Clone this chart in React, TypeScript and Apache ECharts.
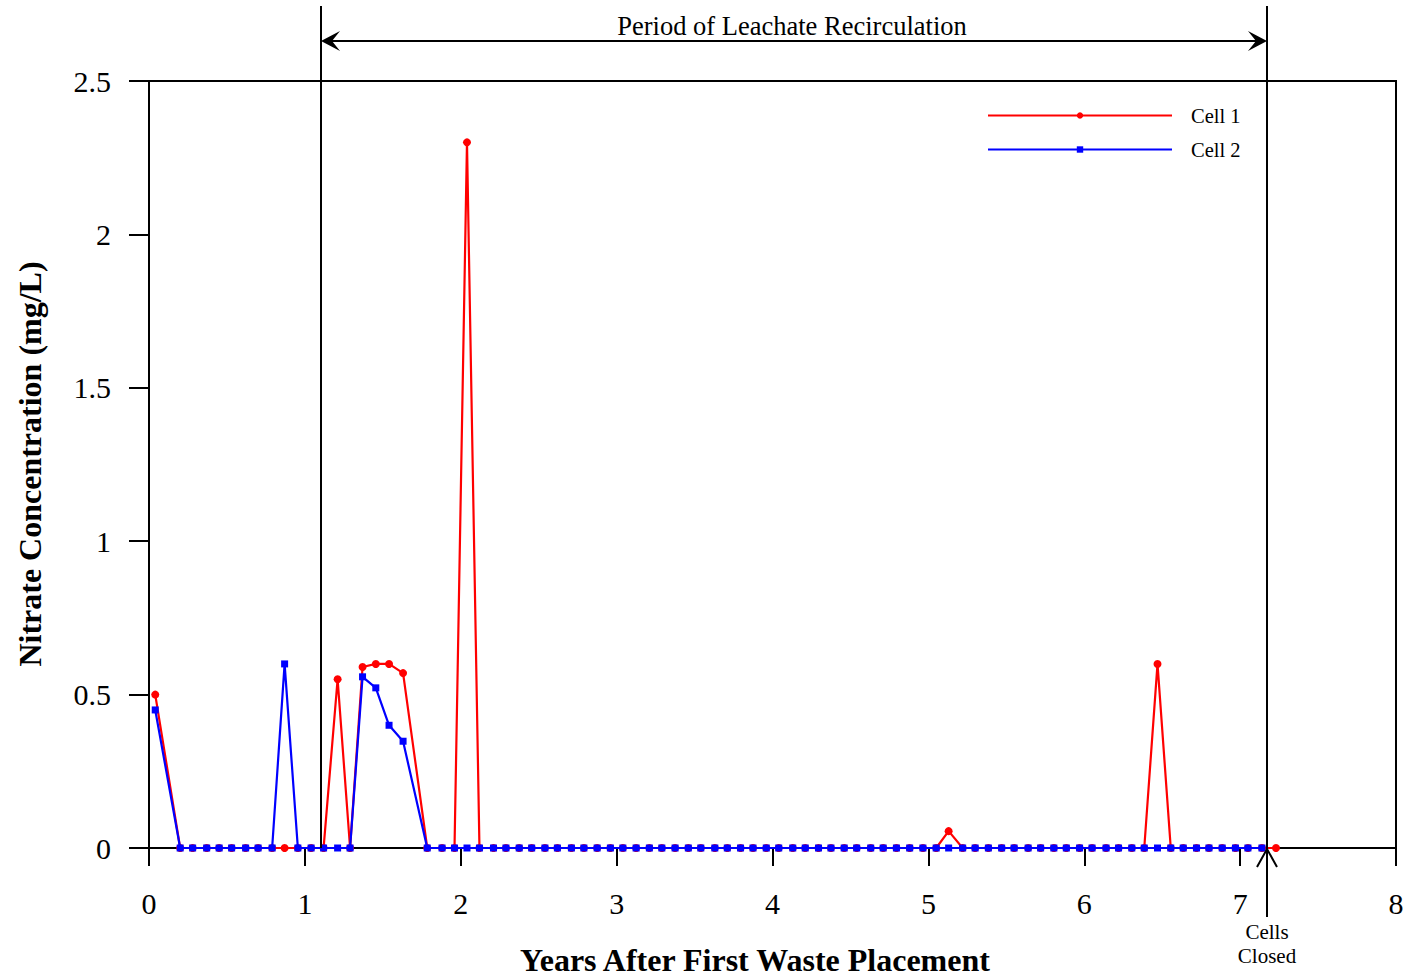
import React, { useEffect, useRef } from "react";
import * as echarts from "echarts";

// Years after first waste placement (sampling dates)
const years = [
  0.04, 0.2, 0.28, 0.37, 0.45, 0.53, 0.62, 0.7, 0.79, 0.87, 0.955, 1.04, 1.12, 1.21, 1.29,
  1.37, 1.455, 1.54, 1.63, 1.785, 1.88, 1.96, 2.04, 2.12, 2.21, 2.29, 2.375, 2.455, 2.54,
  2.62, 2.71, 2.79, 2.875, 2.96, 3.04, 3.125, 3.21, 3.29, 3.375, 3.46, 3.54, 3.63, 3.71,
  3.795, 3.875, 3.96, 4.04, 4.13, 4.21, 4.295, 4.375, 4.46, 4.54, 4.63, 4.71, 4.795, 4.88,
  4.965, 5.05, 5.13, 5.22, 5.3, 5.385, 5.47, 5.55, 5.64, 5.72, 5.805, 5.885, 5.97, 6.05,
  6.14, 6.22, 6.305, 6.385, 6.47, 6.555, 6.635, 6.72, 6.8, 6.885, 6.97, 7.05, 7.14, 7.23,
];

// Nitrate concentration (mg/L), Cell 1
const cell1 = [
  0.5, 0, 0, 0, 0, 0, 0, 0, 0, 0, 0, 0, 0, 0.55, 0,
  0.59, 0.6, 0.6, 0.57, 0, 0, 0, 2.3, 0, 0, 0, 0, 0, 0,
  0, 0, 0, 0, 0, 0, 0, 0, 0, 0, 0, 0, 0, 0,
  0, 0, 0, 0, 0, 0, 0, 0, 0, 0, 0, 0, 0, 0,
  0, 0, 0.055, 0, 0, 0, 0, 0, 0, 0, 0, 0, 0, 0,
  0, 0, 0, 0, 0.6, 0, 0, 0, 0, 0, 0, 0, 0, 0,
];

// Nitrate concentration (mg/L), Cell 2
const cell2 = [
  0.45, 0, 0, 0, 0, 0, 0, 0, 0, 0.6, 0, 0, 0, 0, 0,
  0.558, 0.522, 0.4, 0.348, 0, 0, 0, 0, 0, 0, 0, 0, 0, 0,
  0, 0, 0, 0, 0, 0, 0, 0, 0, 0, 0, 0, 0, 0,
  0, 0, 0, 0, 0, 0, 0, 0, 0, 0, 0, 0, 0, 0,
  0, 0, 0, 0, 0, 0, 0, 0, 0, 0, 0, 0, 0, 0,
  0, 0, 0, 0, 0, 0, 0, 0, 0, 0, 0, 0, 0, null,
];

const xTicks = [0, 1, 2, 3, 4, 5, 6, 7, 8];
const yTicks = [0, 0.5, 1, 1.5, 2, 2.5];

const SERIF = "'Liberation Serif', 'Times New Roman', serif";

export default function App() {
  const ref = useRef<HTMLDivElement>(null);

  useEffect(() => {
    if (!ref.current) return;
    const chart = echarts.init(ref.current, null, { renderer: "svg" });
    const pts1 = years.map((x, i) => [x, cell1[i]]);
    const pts2 = years.map((x, i) => [x, cell2[i]]);

    chart.setOption({
      animation: false,
      backgroundColor: "#fff",
      grid: {
        left: 149,
        right: 12,
        top: 81,
        bottom: 129,
        show: true,
        borderColor: "#000",
        borderWidth: 2,
        backgroundColor: "transparent",
        outerBoundsMode: "none",
      },
      legend: {
        orient: "vertical",
        left: 982,
        top: 100,
        itemWidth: 184,
        itemHeight: 8,
        itemGap: 13,
        data: ["Cell 1", "Cell 2"],
        textStyle: {
          fontFamily: SERIF,
          fontSize: 20.5,
          color: "#000",
          padding: [0, 0, 0, 14],
        },
      },
      xAxis: {
        type: "value",
        min: xTicks[0],
        max: xTicks[xTicks.length - 1],
        interval: 1,
        splitLine: { show: false },
        axisLine: { show: true, lineStyle: { color: "#000", width: 2 } },
        axisTick: { show: true, inside: false, length: 18, lineStyle: { color: "#000", width: 2 } },
        axisLabel: {
          margin: 40,
          color: "#000",
          fontFamily: SERIF,
          fontSize: 30,
        },
      },
      yAxis: {
        type: "value",
        min: yTicks[0],
        max: yTicks[yTicks.length - 1],
        interval: 0.5,
        splitLine: { show: false },
        axisLine: { show: true, lineStyle: { color: "#000", width: 2 } },
        axisTick: { show: true, inside: false, length: 20, lineStyle: { color: "#000", width: 2 } },
        axisLabel: {
          margin: 38,
          color: "#000",
          fontFamily: SERIF,
          fontSize: 30,
        },
      },
      series: [
        {
          name: "Cell 1",
          type: "line",
          data: pts1,
          symbol: "circle",
          symbolSize: 8,
          lineStyle: { color: "#ff0000", width: 2.2 },
          itemStyle: { color: "#ff0000" },
          z: 2,
        },
        {
          name: "Cell 2",
          type: "line",
          data: pts2,
          symbol: "rect",
          symbolSize: 7,
          connectNulls: false,
          lineStyle: { color: "#0000ff", width: 2.2 },
          itemStyle: { color: "#0000ff" },
          z: 3,
        },
      ],
      graphic: [
        // recirculation period markers
        { type: "line", shape: { x1: 321, y1: 6, x2: 321, y2: 848 }, style: { stroke: "#000", lineWidth: 2 }, z: 10 },
        { type: "line", shape: { x1: 1267, y1: 6, x2: 1267, y2: 917 }, style: { stroke: "#000", lineWidth: 2 }, z: 10 },
        { type: "line", shape: { x1: 325, y1: 41, x2: 1263, y2: 41 }, style: { stroke: "#000", lineWidth: 2 }, z: 10 },
        {
          type: "polygon",
          shape: { points: [[321, 41], [340, 31], [332, 41], [340, 51]] },
          style: { fill: "#000" },
          z: 10,
        },
        {
          type: "polygon",
          shape: { points: [[1267, 41], [1248, 31], [1256, 41], [1248, 51]] },
          style: { fill: "#000" },
          z: 10,
        },
        {
          type: "text",
          x: 792,
          y: 26,
          style: {
            text: "Period of Leachate Recirculation",
            font: `26.5px ${SERIF}`,
            fill: "#000",
            textAlign: "center",
            textVerticalAlign: "middle",
          },
          z: 10,
        },
        // cells closed arrow
        {
          type: "polyline",
          shape: { points: [[1257, 867], [1267, 849], [1277, 867]] },
          style: { stroke: "#000", lineWidth: 2, fill: "none" },
          z: 10,
        },
        {
          type: "text",
          x: 1267,
          y: 932,
          style: { text: "Cells", font: `21px ${SERIF}`, fill: "#000", textAlign: "center", textVerticalAlign: "middle" },
          z: 10,
        },
        {
          type: "text",
          x: 1267,
          y: 956,
          style: { text: "Closed", font: `21px ${SERIF}`, fill: "#000", textAlign: "center", textVerticalAlign: "middle" },
          z: 10,
        },
        // axis titles
        {
          type: "text",
          x: 755,
          y: 960,
          style: {
            text: "Years After First Waste Placement",
            font: `bold 32px ${SERIF}`,
            fill: "#000",
            textAlign: "center",
            textVerticalAlign: "middle",
          },
          z: 10,
        },
        {
          type: "text",
          x: 30,
          y: 464,
          rotation: Math.PI / 2,
          style: {
            text: "Nitrate Concentration (mg/L)",
            font: `bold 32px ${SERIF}`,
            fill: "#000",
            textAlign: "center",
            textVerticalAlign: "middle",
          },
          z: 10,
        },
      ],
    });

    return () => chart.dispose();
  }, []);

  return (
    <div
      ref={ref}
      style={{ position: "fixed", left: 0, top: 0, width: 1408, height: 977, background: "#fff" }}
    />
  );
}
